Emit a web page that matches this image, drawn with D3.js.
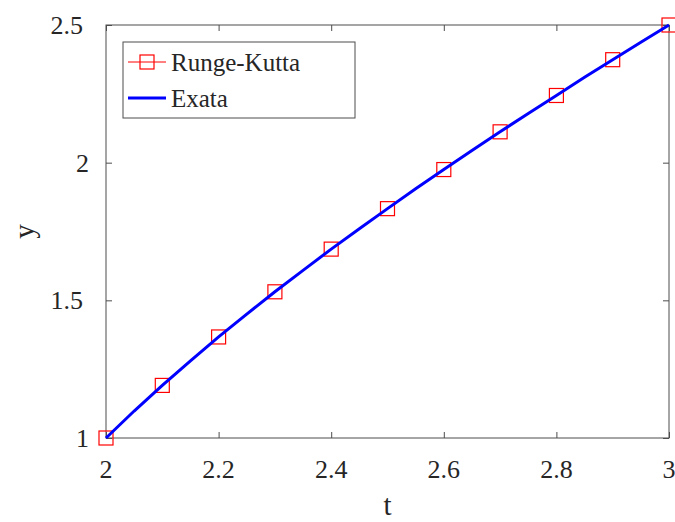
<!DOCTYPE html>
<html>
<head>
<meta charset="utf-8">
<script src="https://cdn.jsdelivr.net/npm/d3@7"></script>
<style>
  body { margin: 0; background: #fff; font-family: "Liberation Serif", serif; }
  svg, svg text { font-family: "Liberation Serif", serif; }
</style>
</head>
<body>
<div id="chart"></div>
<script>
// Runge-Kutta points
var rkT = [2.0, 2.1, 2.2, 2.3, 2.4, 2.5, 2.6, 2.7, 2.8, 2.9, 3.0];
var rkY = [1.0, 1.191, 1.367, 1.531, 1.686, 1.833, 1.975, 2.112, 2.244, 2.374, 2.5];

// exact solution
var exT = [2.0, 2.05, 2.1, 2.15, 2.2, 2.25, 2.3, 2.35, 2.4, 2.45, 2.5, 2.55, 2.6, 2.65, 2.7, 2.75, 2.8, 2.85, 2.9, 2.95, 3.0];
var exY = [1.0, 1.098, 1.191, 1.280, 1.367, 1.450, 1.531, 1.609, 1.686, 1.760, 1.833, 1.905, 1.975, 2.044, 2.112, 2.179, 2.244, 2.310, 2.374, 2.437, 2.5];

var xTicks = [2, 2.2, 2.4, 2.6, 2.8, 3];
var yTicks = [1, 1.5, 2, 2.5];
var seriesNames = ["Runge-Kutta", "Exata"];

var svgWidth = 675;
var svgHeight = 522;
var margin = { top: 25, right: 6, bottom: 84, left: 106 };
var width = svgWidth - margin.left - margin.right;
var height = svgHeight - margin.top - margin.bottom;
var fontFam = "Liberation Serif";
var textColor = "#262626";
var axisColor = "#4d4d4d";

var svg = d3.select("#chart")
  .append("svg")
  .attr("width", svgWidth)
  .attr("height", svgHeight)
  .attr("font-family", fontFam);

var x = d3.scaleLinear().domain([2, 3]).range([0, width]);
var y = d3.scaleLinear().domain([1, 2.5]).range([height, 0]);

// helper for all text
function addText(sel, size) {
  return sel.append("text")
    .attr("font-family", fontFam)
    .attr("font-size", size)
    .attr("fill", textColor)
    .style("font-family", fontFam);
}

var chartGroup = svg.append("g")
  .attr("transform", `translate(${margin.left}, ${margin.top})`);

// tick labels
xTicks.forEach(function(d) {
  addText(chartGroup, 26)
    .attr("x", x(d))
    .attr("y", height + 40)
    .attr("text-anchor", "middle")
    .text(d3.format("")(d));
});

yTicks.forEach(function(d) {
  addText(chartGroup, 26)
    .attr("x", Number.isInteger(d) ? -17 : -23)
    .attr("y", y(d) + 9)
    .attr("text-anchor", "end")
    .text(d3.format("")(d));
});

// axis titles
addText(chartGroup, 29)
  .attr("x", width / 2)
  .attr("y", height + 77)
  .attr("text-anchor", "middle")
  .text("t");

addText(chartGroup, 29)
  .attr("transform", "rotate(-90)")
  .attr("x", -height / 2)
  .attr("y", -72)
  .attr("text-anchor", "middle")
  .text("y");

// box
chartGroup.append("rect")
  .attr("width", width)
  .attr("height", height)
  .attr("fill", "none")
  .attr("stroke", axisColor)
  .attr("stroke-width", 1);

// ticks pointing inward, on all four sides (no labels here)
var tickLen = 6;
chartGroup.append("g").call(d3.axisBottom(x).tickValues(xTicks).tickSize(tickLen).tickFormat(""))
  .attr("transform", `translate(0, ${height - tickLen})`)
  .call(g => g.select(".domain").remove())
  .call(g => g.selectAll("text").remove())
  .selectAll("line").attr("stroke", axisColor);
chartGroup.append("g").call(d3.axisTop(x).tickValues(xTicks).tickSize(tickLen).tickFormat(""))
  .attr("transform", `translate(0, ${tickLen})`)
  .call(g => g.select(".domain").remove())
  .call(g => g.selectAll("text").remove())
  .selectAll("line").attr("stroke", axisColor);
chartGroup.append("g").call(d3.axisLeft(y).tickValues(yTicks).tickSize(tickLen).tickFormat(""))
  .attr("transform", `translate(${tickLen}, 0)`)
  .call(g => g.select(".domain").remove())
  .call(g => g.selectAll("text").remove())
  .selectAll("line").attr("stroke", axisColor);
chartGroup.append("g").call(d3.axisRight(y).tickValues(yTicks).tickSize(tickLen).tickFormat(""))
  .attr("transform", `translate(${width - tickLen}, 0)`)
  .call(g => g.select(".domain").remove())
  .call(g => g.selectAll("text").remove())
  .selectAll("line").attr("stroke", axisColor);

// Runge-Kutta line + markers
var rkData = rkT.map((t, i) => ({ t: t, y: rkY[i] }));
var exData = exT.map((t, i) => ({ t: t, y: exY[i] }));

var line = d3.line().x(d => x(d.t)).y(d => y(d.y));

chartGroup.append("path")
  .datum(rkData)
  .attr("d", line)
  .attr("fill", "none")
  .attr("stroke", "#ff0000")
  .attr("stroke-width", 1);

var mSize = 14;
chartGroup.selectAll(".rk")
  .data(rkData)
  .enter()
  .append("rect")
  .attr("x", d => x(d.t) - mSize / 2)
  .attr("y", d => y(d.y) - mSize / 2)
  .attr("width", mSize)
  .attr("height", mSize)
  .attr("fill", "none")
  .attr("stroke", "#ff0000")
  .attr("stroke-width", 1.2);

// exact line
chartGroup.append("path")
  .datum(exData)
  .attr("d", line)
  .attr("fill", "none")
  .attr("stroke", "#0000ff")
  .attr("stroke-width", 3);

// legend
var legend = svg.append("g").attr("transform", "translate(123, 42)");
legend.append("rect")
  .attr("width", 232)
  .attr("height", 76)
  .attr("fill", "#fff")
  .attr("stroke", axisColor)
  .attr("stroke-width", 1);

legend.append("line")
  .attr("x1", 5).attr("x2", 43)
  .attr("y1", 20).attr("y2", 20)
  .attr("stroke", "#ff0000").attr("stroke-width", 1);
legend.append("rect")
  .attr("x", 24 - mSize / 2).attr("y", 20 - mSize / 2)
  .attr("width", mSize).attr("height", mSize)
  .attr("fill", "none").attr("stroke", "#ff0000").attr("stroke-width", 1.2);
legend.append("line")
  .attr("x1", 5).attr("x2", 43)
  .attr("y1", 56).attr("y2", 56)
  .attr("stroke", "#0000ff").attr("stroke-width", 3);

seriesNames.forEach(function(d, i) {
  addText(legend, 25)
    .attr("x", 48)
    .attr("y", 29 + i * 36)
    .text(d);
});
</script>
</body>
</html>
